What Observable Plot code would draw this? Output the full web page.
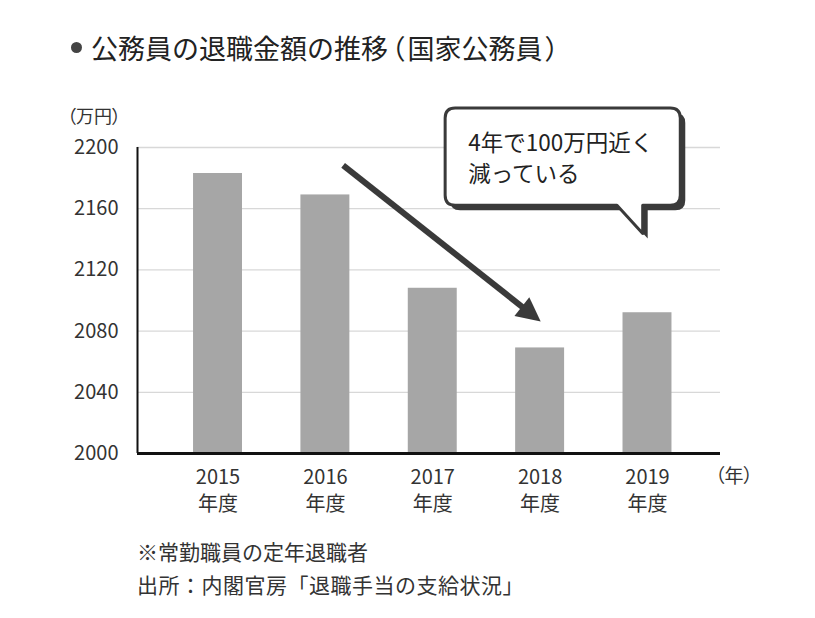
<!DOCTYPE html>
<html><head><meta charset="utf-8">
<script src="https://cdn.jsdelivr.net/npm/d3@7"></script>
<script src="https://cdn.jsdelivr.net/npm/@observablehq/plot@0.6"></script>
<style>
  html, body { margin: 0; padding: 0; background: #fff; }
  body { font-family: "Noto Sans CJK JP", "Noto Sans", sans-serif; color: #333; }
  #wrap { position: relative; width: 815px; height: 618px; overflow: hidden; }
  #chart { position: absolute; left: 0; top: 0; }
  .abs { position: absolute; white-space: nowrap; line-height: 1; }
  .p { font-feature-settings: "palt"; }
  #title { left: 71px; top: 34px; font-size: 27px; color: #222; display: flex; align-items: center; }
  #title .dot { display: inline-block; width: 11px; height: 11px; border-radius: 50%; background: #444; margin-right: 9px; }
  #title .p { margin: 0 3px; }
  #yunit { left: 67px; top: 106px; font-size: 18px; }
  #xunit { left: 715px; top: 465px; font-size: 19px; }
  #note1 { left: 137px; top: 541px; font-size: 21px; }
  #note2 { left: 137px; top: 574px; font-size: 21px; letter-spacing: 0.5px; }
</style>
</head><body>
<div id="wrap">
  <div id="chart"></div>
  <div id="title" class="abs"><span class="dot"></span>公務員の退職金額の推移<span class="p">（</span>国家公務員<span class="p">）</span></div>
  <div id="yunit" class="abs"><span class="p">（</span>万円<span class="p">）</span></div>
  <div id="xunit" class="abs"><span class="p">（</span>年<span class="p">）</span></div>
  <div id="note1" class="abs">※常勤職員の定年退職者</div>
  <div id="note2" class="abs">出所：内閣官房「退職手当の支給状況」</div>
</div>
<script>
// ---- data ----
const years = [2015, 2016, 2017, 2018, 2019];
const amounts = [2183, 2169, 2108, 2069, 2092];
const yTicks = [2000, 2040, 2080, 2120, 2160, 2200];
const yearSuffix = "年度";
const calloutLines = ["4年で100万円近く", "減っている"];

// annotation anchors in data space
const xDomain = [2014.25, 2019.68];
const yDomain = [2000, 2200];
const arrowFrom = {year: 2016.17, value: 2188};
const arrowTo = {year: 2018.01, value: 2086};
const callout = {x1: 2017.12, x2: 2019.31, y1: 2162, y2: 2225.5, tailL: 2018.72, tailR: 2018.96, tipX: 2018.96, tipY: 2143.5, textX: 2017.33, textY: 2194.3};

const data = years.map((year, i) => ({year, value: amounts[i]}));
const halfBar = 0.228;

const annotation = (index, {x, y}) => {
  const g = d3.create("svg:g");
  const dark = "#3a3a3a";
  // arrow
  const x0 = x(arrowFrom.year), y0 = y(arrowFrom.value);
  const x1 = x(arrowTo.year), y1 = y(arrowTo.value);
  const a = Math.atan2(y1 - y0, x1 - x0);
  const hl = 24, hw = 12;
  const bx = x1 - hl * Math.cos(a), by = y1 - hl * Math.sin(a);
  g.append("line").attr("x1", x0).attr("y1", y0).attr("x2", bx + Math.cos(a) * 2).attr("y2", by + Math.sin(a) * 2)
    .attr("stroke", dark).attr("stroke-width", 6);
  g.append("path").attr("d", `M${x1},${y1}L${bx - hw * Math.sin(a)},${by + hw * Math.cos(a)}L${bx + hw * Math.sin(a)},${by - hw * Math.cos(a)}Z`)
    .attr("fill", dark);
  // callout
  const l = x(callout.x1), r = x(callout.x2), t = y(callout.y2), b = y(callout.y1);
  const tl = x(callout.tailL), tr = x(callout.tailR), px = x(callout.tipX), py = y(callout.tipY);
  const rad = 10;
  const d = `M${l + rad},${t}H${r - rad}Q${r},${t} ${r},${t + rad}V${b - rad}Q${r},${b} ${r - rad},${b}H${tr}L${px},${py}L${tl},${b}H${l + rad}Q${l},${b} ${l},${b - rad}V${t + rad}Q${l},${t} ${l + rad},${t}Z`;
  g.append("path").attr("d", d).attr("fill", dark).attr("transform", "translate(5,5)");
  g.append("path").attr("d", d).attr("fill", "#fff").attr("stroke", dark).attr("stroke-width", 3).attr("stroke-linejoin", "round");
  return g.node();
};

const chart = Plot.plot({
  width: 815,
  height: 618,
  marginLeft: 137,
  marginRight: 95,
  marginTop: 147,
  marginBottom: 165,
  style: {fontSize: "20px", fontFamily: "'Noto Sans CJK JP', 'Noto Sans', sans-serif", color: "#333", background: "transparent", overflow: "visible"},
  x: {domain: xDomain},
  y: {domain: yDomain},
  marks: [
    Plot.ruleY(yTicks.filter(t => t > yDomain[0]), {stroke: "#d8d8d8", strokeWidth: 1.3}),
    Plot.rectY(data, {x1: d => d.year - halfBar, x2: d => d.year + halfBar, y1: yDomain[0], y2: "value", fill: "#a6a6a6"}),
    Plot.ruleX([xDomain[0]], {y1: yDomain[0], y2: yDomain[1], stroke: "#111", strokeWidth: 2}),
    Plot.ruleY([yDomain[0]], {stroke: "#111", strokeWidth: 3}),
    Plot.axisY({ticks: yTicks, tickSize: 0, tickPadding: 19, label: null, tickFormat: d => String(d)}),
    Plot.axisX({ticks: years, tickSize: 0, tickPadding: 11, label: null, lineHeight: 1.36, tickFormat: d => `${d}\n${yearSuffix}`}),
    annotation,
    Plot.text([calloutLines.join("\n")], {x: callout.textX, y: callout.textY, textAnchor: "start", lineAnchor: "middle", lineHeight: 1.38, fontSize: 22.5, fill: "#222"})
  ]
});
document.getElementById("chart").appendChild(chart);
</script>
</body></html>
